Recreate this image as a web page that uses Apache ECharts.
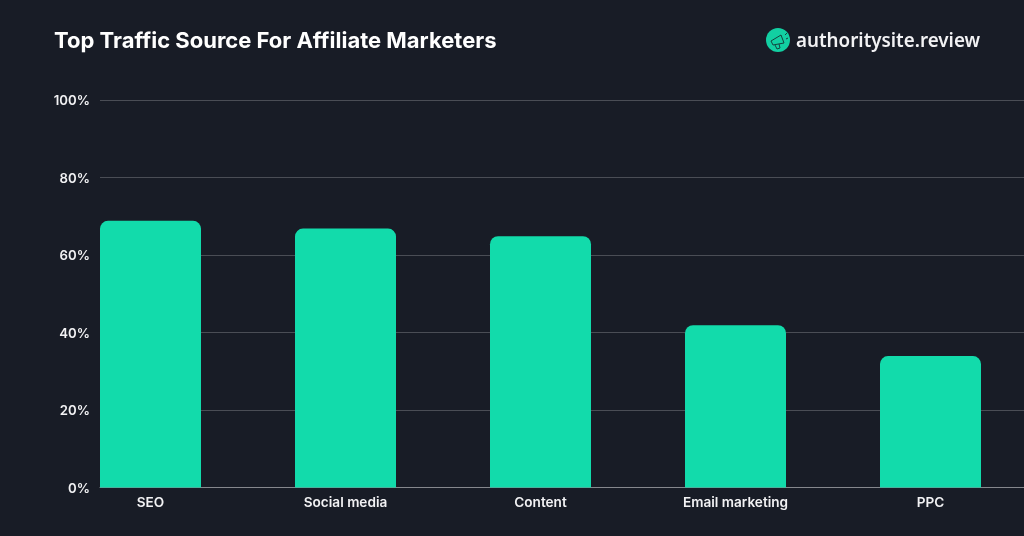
<!DOCTYPE html>
<html><head><meta charset="utf-8">
<style>html,body{margin:0;padding:0;background:#181c26}#c{width:1024px;height:536px}</style>
<script src="https://cdn.jsdelivr.net/npm/echarts@6/dist/echarts.min.js"></script>
</head><body><div id="c"></div>
<script>
const titleText = 'Top Traffic Source For Affiliate Marketers';
const brandText = 'authoritysite.review';
const categories = ['SEO', 'Social media', 'Content', 'Email marketing', 'PPC'];
const shares = [69, 67, 65, 42, 34];
const chart = echarts.init(document.getElementById('c'), null, {renderer: 'canvas'});
const txt = '#f2f2f4';
const ink = {fill: 'none', stroke: '#14433f', lineWidth: 1};
chart.setOption({
  backgroundColor: '#181c26',
  animation: false,
  title: {text: titleText, left: 49, top: 25, textStyle: {fontFamily: 'Inter', fontWeight: 700, fontSize: 22, color: '#ffffff'}},
  grid: [
    {left: 100, right: 0, top: 100, height: 387.5, outerBoundsMode: 'none'},
    {left: 53, width: 975, top: 101, height: 386.5, outerBoundsMode: 'none'}
  ],
  xAxis: [
    {type: 'value', gridIndex: 0, min: 0, max: 1, axisLabel: {show: false}, axisTick: {show: false}, splitLine: {show: false},
     axisLine: {show: true, lineStyle: {color: '#85878d', width: 1}}},
    {type: 'category', gridIndex: 1, data: categories, axisLine: {show: false}, axisTick: {show: false},
     axisLabel: {color: txt, fontFamily: 'Inter', fontWeight: 600, fontSize: 13.6, margin: 8}}
  ],
  yAxis: [
    {type: 'value', gridIndex: 0, min: 0, max: 100, interval: 20,
     axisLine: {show: false}, axisTick: {show: false},
     axisLabel: {color: txt, fontFamily: 'Inter', fontWeight: 600, fontSize: 13.2, margin: 10, verticalAlign: 'top', lineHeight: 3, formatter: '{value}%'},
     splitLine: {show: true, lineStyle: {color: '#4a4d55', width: 1}}},
    {type: 'value', gridIndex: 1, min: 0, max: 100, show: false, splitLine: {show: false}}
  ],
  series: [{
    type: 'bar', xAxisIndex: 1, yAxisIndex: 1, data: shares, barWidth: 101,
    itemStyle: {color: '#12dbab', borderRadius: [8, 8, 0, 0]}
  }],
  graphic: [
    {type: 'circle', shape: {cx: 778, cy: 40, r: 12}, style: {fill: '#12cfa2'}},
    {type: 'polygon', shape: {points: [[771, 41], [781, 35], [784, 43], [773, 45]]}, style: ink},
    {type: 'polyline', shape: {points: [[775, 45], [777, 49], [780, 48], [779, 44]]}, style: ink},
    {type: 'polyline', shape: {points: [[785, 35], [787, 33]]}, style: ink},
    {type: 'polyline', shape: {points: [[786, 39], [788, 38]]}, style: ink},
    {type: 'text', style: {x: 796, y: 41.5, text: brandText, fontFamily: 'Noto Sans', fontWeight: 600, fontSize: 18.8, fill: '#f2f2f4', textVerticalAlign: 'middle'}}
  ]
});
</script></body></html>
